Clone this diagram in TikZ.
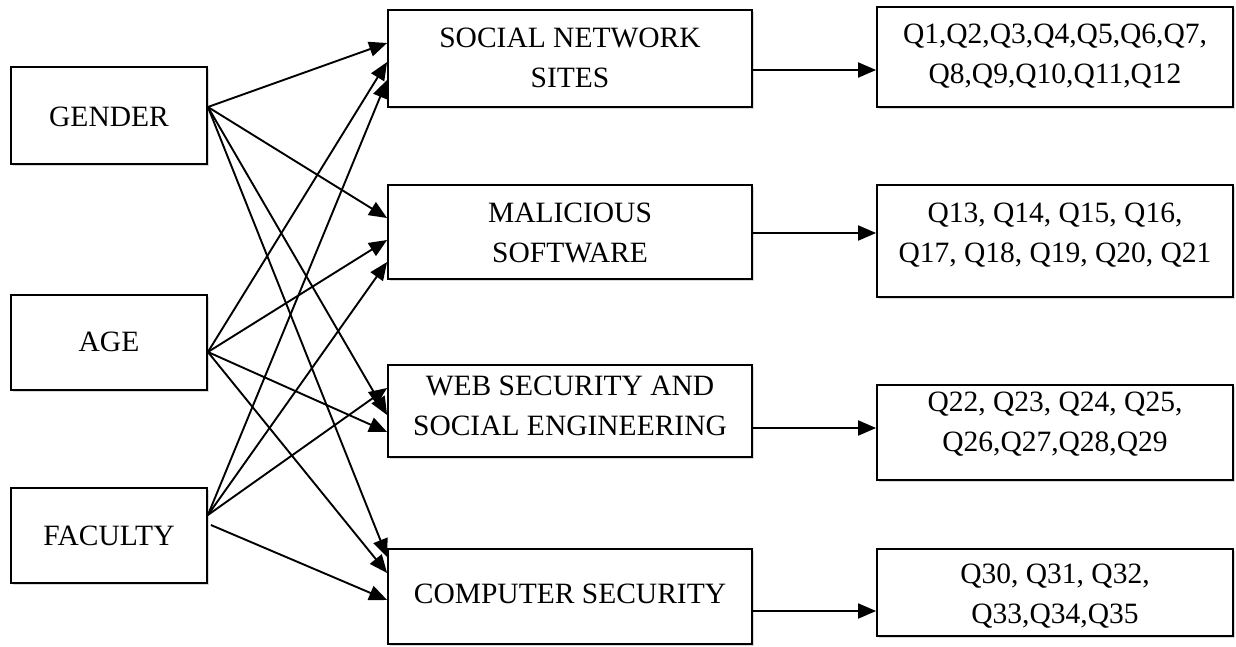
\documentclass[tikz,border=0pt]{standalone}
\usepackage{fontspec}
\setmainfont{Liberation Serif}
\usetikzlibrary{arrows.meta,shadows}

\tikzset{
  box/.style={draw=black, line width=1.8pt, fill=white, inner sep=0pt,
    drop shadow={shadow xshift=2pt, shadow yshift=-2pt, fill=black!25, opacity=0.6}},
  txt/.style={align=center, inner sep=0pt, font=\fontsize{29.5}{40}\selectfont},
  link/.style={line width=1.9pt, -{Triangle[length=18pt,width=15pt]}},
}

\begin{document}
\begin{tikzpicture}[x=1pt, y=-1pt]
  \useasboundingbox (0,0) rectangle (1236,646);

  % factors
  \node[box, minimum width=196pt, minimum height=97pt] (gender)  at (109,115.5) {};
  \node[box, minimum width=196pt, minimum height=95pt] (age)     at (109,342.5) {};
  \node[box, minimum width=196pt, minimum height=95pt] (faculty) at (109,535.5) {};
  \node[txt] (gendert)  at (109,117) {GENDER};
  \node[txt] (aget)     at (109,342) {AGE};
  \node[txt] (facultyt) at (109,536) {FACULTY};

  % awareness areas
  \node[box, minimum width=364pt, minimum height=97pt] (sns)  at (570,58.5)  {};
  \node[box, minimum width=364pt, minimum height=94pt] (mal)  at (570,232)   {};
  \node[box, minimum width=364pt, minimum height=92pt] (web)  at (570,411)   {};
  \node[box, minimum width=364pt, minimum height=95pt] (comp) at (570,596.5) {};
  \node[txt] (snst)  at (570,57.5) {SOCIAL NETWORK\\SITES};
  \node[txt] (malt)  at (570,233)  {MALICIOUS\\SOFTWARE};
  \node[txt] (webt)  at (570,406)  {WEB SECURITY AND\\SOCIAL ENGINEERING};
  \node[txt] (compt) at (570,594)  {COMPUTER SECURITY};

  % questionnaire items
  \node[box, minimum width=356pt, minimum height=100pt] (q1) at (1055,57)    {};
  \node[box, minimum width=356pt, minimum height=112pt] (q2) at (1055,241)   {};
  \node[box, minimum width=356pt, minimum height=95pt]  (q3) at (1055,432.5) {};
  \node[box, minimum width=356pt, minimum height=87pt]  (q4) at (1055,592.5) {};
  \node[txt] (q1t) at (1055,56)  {Q1,Q2,Q3,Q4,Q5,Q6,Q7,\\Q8,Q9,Q10,Q11,Q12};
  \node[txt] (q2t) at (1055,235) {Q13, Q14, Q15, Q16,\\Q17, Q18, Q19, Q20, Q21};
  \node[txt] (q3t) at (1055,424) {Q22, Q23, Q24, Q25,\\Q26,Q27,Q28,Q29};
  \node[txt] (q4t) at (1055,596) {Q30, Q31, Q32,\\Q33,Q34,Q35};

  % arrow origins on the factor boxes
  \coordinate (gs) at (gender.east |- 0,107);
  \coordinate (as) at (age.east |- 0,352);
  \coordinate (fs) at (faculty.east |- 0,515);
  \coordinate (fs2) at ([xshift=3pt]faculty.east |- 0,525);

  % factors -> areas
  \draw[link] (gs) -- (sns.west |- 0,43);
  \draw[link] (gs) -- (mal.west |- 0,218);
  \draw[link] (gs) -- (web.west |- 0,415);
  \draw[link] (gs) -- (comp.west |- 0,557);

  \draw[link] (as) -- (sns.west |- 0,62);
  \draw[link] (as) -- (mal.west |- 0,240);
  \draw[link] (as) -- (web.west |- 0,432);
  \draw[link] (as) -- (comp.west |- 0,573);

  \draw[link] (fs) -- (sns.west |- 0,80);
  \draw[link] (fs) -- (mal.west |- 0,262);
  \draw[link] (fs) -- (web.west |- 0,388);
  \draw[link] (fs2) -- (comp.west |- 0,600);

  % areas -> items
  \draw[link] (sns.east |- 0,70)   -- (q1.west |- 0,70);
  \draw[link] (mal.east |- 0,233)  -- (q2.west |- 0,233);
  \draw[link] (web.east |- 0,428)  -- (q3.west |- 0,428);
  \draw[link] (comp.east |- 0,611) -- (q4.west |- 0,611);
\end{tikzpicture}
\end{document}
